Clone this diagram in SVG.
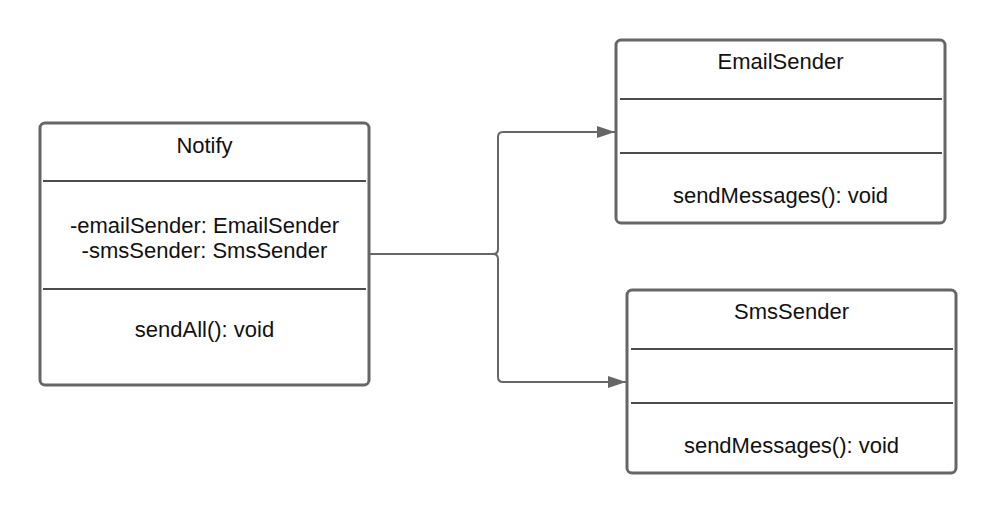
<svg xmlns="http://www.w3.org/2000/svg" width="996" height="514" viewBox="0 0 996 514">
<style>
.box{fill:#fff;stroke:#666;stroke-width:3}
.sep{stroke:#111;stroke-width:1.5}
.t{font-family:"Liberation Sans",Arial,sans-serif;font-size:22px;fill:#111;text-anchor:middle}
.c{fill:none;stroke:#666;stroke-width:2}
</style>
<defs>
<marker id="ah" markerWidth="18" markerHeight="12" refX="18" refY="6" orient="auto" markerUnits="userSpaceOnUse">
<path d="M0,0 L18,6 L0,12 Z" fill="#666"/>
</marker>
</defs>
<rect width="996" height="514" fill="#fff"/>
<g id="connectors">
<path class="c" d="M370,254 H493 Q498,254 498,249 V137 Q498,132 503,132 H615" marker-end="url(#ah)"/>
<path class="c" d="M370,254 H493 Q498,254 498,259 V377 Q498,382 503,382 H626" marker-end="url(#ah)"/>
</g>
<g id="notify">
<rect class="box" x="40" y="123" width="329" height="262" rx="5"/>
<line class="sep" x1="43" y1="181" x2="366" y2="181"/>
<line class="sep" x1="43" y1="289" x2="366" y2="289"/>
<text class="t" x="204.5" y="153">Notify</text>
<text class="t" x="204.5" y="233">-emailSender: EmailSender</text>
<text class="t" x="204.5" y="258">-smsSender: SmsSender</text>
<text class="t" x="204.5" y="337">sendAll(): void</text>
</g>
<g id="emailSender">
<rect class="box" x="616" y="40" width="329" height="183" rx="5"/>
<line class="sep" x1="620" y1="99" x2="942" y2="99"/>
<line class="sep" x1="620" y1="153" x2="942" y2="153"/>
<text class="t" x="780.5" y="69">EmailSender</text>
<text class="t" x="780.5" y="203">sendMessages(): void</text>
</g>
<g id="smsSender">
<rect class="box" x="627" y="290" width="329" height="183" rx="5"/>
<line class="sep" x1="631" y1="349" x2="953" y2="349"/>
<line class="sep" x1="631" y1="403" x2="953" y2="403"/>
<text class="t" x="791.5" y="319">SmsSender</text>
<text class="t" x="791.5" y="453">sendMessages(): void</text>
</g>
</svg>
